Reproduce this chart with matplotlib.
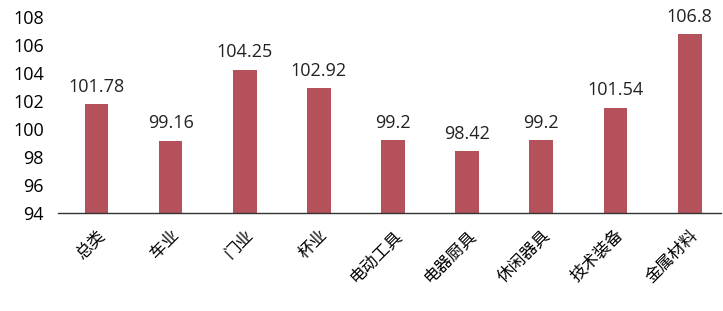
import matplotlib.pyplot as plt

plt.rcParams['font.family'] = ['Noto Sans CJK SC', 'DejaVu Sans']

categories = ['总类', '车业', '门业', '杯业', '电动工具', '电器厨具', '休闲器具', '技术装备', '金属材料']
values = [101.78, 99.16, 104.25, 102.92, 99.2, 98.42, 99.2, 101.54, 106.8]
value_labels = ['101.78', '99.16', '104.25', '102.92', '99.2', '98.42', '99.2', '101.54', '106.8']
y_ticks = [94, 96, 98, 100, 102, 104, 106, 108]

fig = plt.figure(figsize=(7.23, 3.11), dpi=100)
ax = fig.add_axes([0.080, 0.315, 0.917, 0.630])

x = list(range(len(categories)))
bars = ax.bar(x, [v - 94 for v in values], bottom=94, width=0.32, color='#b5515b')

for i, (v, lab) in enumerate(zip(values, value_labels)):
    ax.annotate(lab, (i, v), xytext=(0, 6), textcoords='offset points',
                ha='center', va='bottom', fontsize=13, color='#222222',
                family=['Open Sans', 'DejaVu Sans'])

ax.set_ylim(94, 108)
ax.set_xlim(-0.52, 8.42)
ax.set_yticks(y_ticks)
ax.set_yticklabels([str(t) for t in y_ticks], fontsize=13, family=['Open Sans', 'DejaVu Sans'])
ax.set_xticks(x)
ax.set_xticklabels(categories, rotation=45, ha='right', rotation_mode='anchor', fontsize=12)
ax.tick_params(axis='both', length=0, pad=10)
ax.tick_params(axis='x', pad=10)

for s in ['top', 'right', 'left']:
    ax.spines[s].set_visible(False)
ax.spines['bottom'].set_color('#333333')
ax.spines['bottom'].set_linewidth(1.0)

fig.savefig('out.png', dpi=100)
